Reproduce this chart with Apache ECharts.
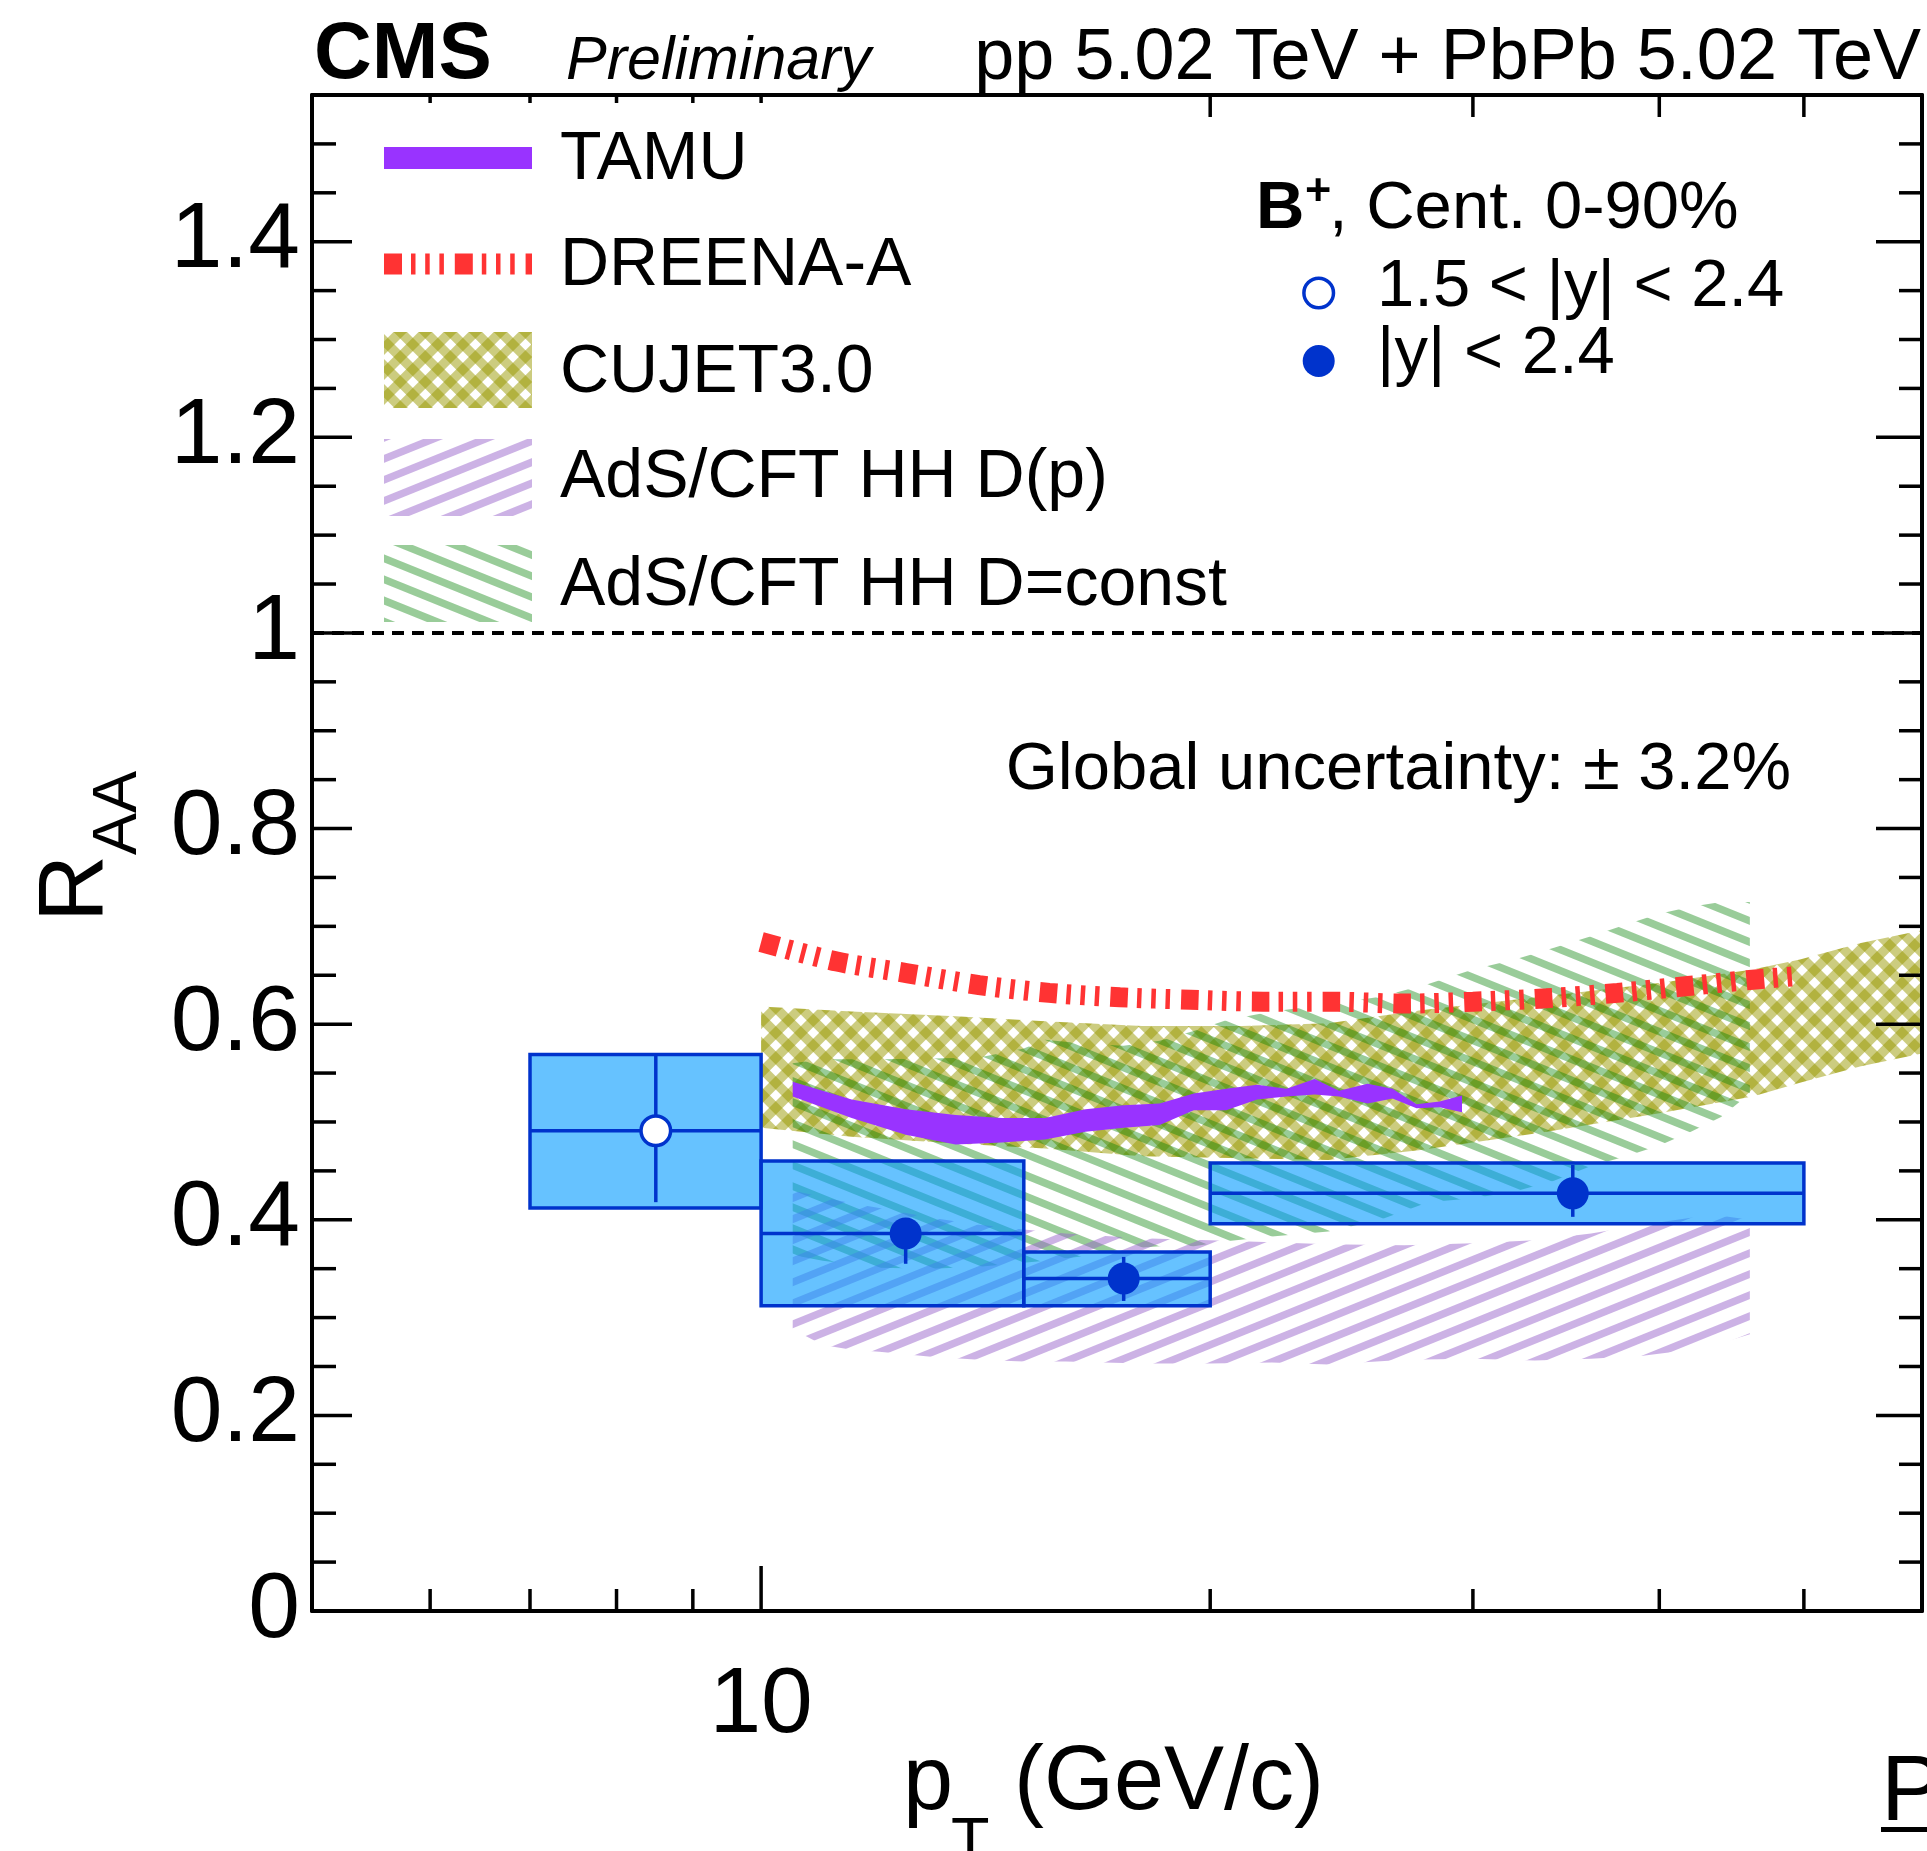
<!DOCTYPE html>
<html>
<head>
<meta charset="utf-8">
<script src="https://cdn.jsdelivr.net/npm/echarts@6.0.0/dist/echarts.min.js"></script>
<style>
html, body { margin: 0; padding: 0; background: #fff; }
#chart { width: 1927px; height: 1851px; }
</style>
</head>
<body>
<div id="chart"></div>
<script>
// ---- B+ R_AA measurement (pT bins, central values, uncertainties) ----
const binLow    = [7, 10, 15, 20];
const binHigh   = [10, 15, 20, 50];
const ptCenter  = [8.5, 12.5, 17.5, 35];
const raa       = [0.491, 0.386, 0.340, 0.427];
const statUp    = [0.078, 0.012, 0.022, 0.029];
const statDown  = [0.073, 0.031, 0.023, 0.024];
const systUp    = [0.078, 0.074, 0.027, 0.031];
const systDown  = [0.079, 0.074, 0.028, 0.031];
const forwardBin = [true, false, false, false];   // 1.5 < |y| < 2.4

// ---- model predictions ----
const tamuPt   = [10.5, 11.5, 12.5, 13.5, 14.5, 15.5, 16.5, 17.5, 18.5, 19.5, 20.5, 21.5, 22.5, 23.5, 24.4, 25.5, 26.5, 27.5, 28.5, 29.5];
const tamuHigh = [0.541, 0.523, 0.513, 0.507, 0.504, 0.504, 0.513, 0.517, 0.519, 0.529, 0.534, 0.538, 0.534, 0.544, 0.532, 0.539, 0.534, 0.518, 0.521, 0.527];
const tamuLow  = [0.526, 0.504, 0.487, 0.477, 0.479, 0.482, 0.490, 0.494, 0.497, 0.512, 0.512, 0.523, 0.526, 0.528, 0.526, 0.519, 0.524, 0.514, 0.515, 0.510];

const dreenaPt  = [10, 11.24, 12.54, 14, 15.6, 17.4, 19.4, 21.7, 24.2, 27, 30, 33.6, 37.5, 41.8, 46.6, 49.4];
const dreenaRaa = [0.684, 0.664, 0.652, 0.640, 0.632, 0.6275, 0.625, 0.623, 0.623, 0.621, 0.623, 0.6265, 0.632, 0.639, 0.646, 0.649];

const cujetPt   = [10, 11.5, 13.5, 15.5, 18, 21, 24, 27.6, 33.3, 40, 46.2, 49.7, 54.6, 60];
const cujetHigh = [0.618, 0.613, 0.608, 0.603, 0.598, 0.598, 0.601, 0.614, 0.628, 0.642, 0.656, 0.666, 0.683, 0.696];
const cujetLow  = [0.494, 0.485, 0.478, 0.473, 0.465, 0.463, 0.461, 0.471, 0.489, 0.509, 0.526, 0.540, 0.557, 0.570];

const adsDpPt   = [10.5, 11, 11.5, 12, 13, 14, 15, 16, 18, 20, 22, 24, 27, 30, 33, 36, 39, 42, 44, 46];
const adsDpHigh = [0.430, 0.423, 0.417, 0.412, 0.402, 0.395, 0.390, 0.386, 0.381, 0.379, 0.377, 0.375, 0.374, 0.376, 0.379, 0.386, 0.395, 0.402, 0.404, 0.400];
const adsDpLow  = [0.288, 0.272, 0.267, 0.265, 0.260, 0.257, 0.255, 0.255, 0.253, 0.253, 0.254, 0.252, 0.257, 0.258, 0.256, 0.258, 0.261, 0.267, 0.274, 0.283];

const adsConstPt   = [10.5, 11, 12, 13, 14, 15, 15.5, 16.5, 17.5, 18.5, 19.5, 20.5, 22, 24, 26, 28, 30, 32, 34, 36, 38, 40, 42, 44, 46];
const adsConstHigh = [0.560, 0.564, 0.564, 0.565, 0.566, 0.575, 0.584, 0.580, 0.578, 0.583, 0.593, 0.604, 0.613, 0.620, 0.628, 0.641, 0.656, 0.666, 0.678, 0.690, 0.702, 0.713, 0.720, 0.725, 0.725];
const adsConstLow  = [0.364, 0.358, 0.351, 0.350, 0.352, 0.356, 0.358, 0.363, 0.370, 0.373, 0.373, 0.378, 0.383, 0.388, 0.400, 0.418, 0.422, 0.429, 0.440, 0.455, 0.465, 0.476, 0.490, 0.505, 0.529];

const unityLine = [[5, 1], [60, 1]];

// ---- axes ----
const xMin = 5, xMax = 60, yMin = 0, yMax = 1.55;
const xMajorTicks = [10];
const xMinorTicks = [6, 7, 8, 9, 20, 30, 40, 50];
const xTopShortTicks = [6, 7, 8, 9, 10];
const xTopLongTicks = [20, 30, 40, 50];
const xTickLabels = [10];
const yMajorTicks = [0.2, 0.4, 0.6, 0.8, 1.0, 1.2, 1.4];
const yMinorTicks = [0.05, 0.1, 0.15, 0.25, 0.3, 0.35, 0.45, 0.5, 0.55, 0.65, 0.7, 0.75,
                     0.85, 0.9, 0.95, 1.05, 1.1, 1.15, 1.25, 1.3, 1.35, 1.45, 1.5];
const yTickLabels = [0, 0.2, 0.4, 0.6, 0.8, 1, 1.2, 1.4];

const W = 1927, H = 1851;
const FONT = '"Liberation Sans", Arial, Helvetica, sans-serif';
const BLUE = '#0033CC';

// hatch images, laid out in page coordinates
function hatchCanvas(sets) {
  const c = document.createElement('canvas');
  c.width = W; c.height = H;
  const g = c.getContext('2d');
  sets.forEach(s => {
    g.save();
    g.fillStyle = s.color;
    g.translate(W / 2, H / 2);
    g.rotate(s.angle * Math.PI / 180);
    const R = Math.hypot(W, H) / 2 + s.period;
    for (let y = -R; y < R; y += s.period) g.fillRect(-R, y, 2 * R, s.width);
    g.restore();
  });
  return { image: c, repeat: 'no-repeat' };
}
const crossHatch = hatchCanvas([
  { color: 'rgba(153,153,0,0.5)', angle: 45, period: 17.7, width: 9.5 },
  { color: 'rgba(153,153,0,0.5)', angle: -45, period: 17.7, width: 9.5 }
]);
const greenHatch = hatchCanvas([{ color: 'rgba(0,128,0,0.4)', angle: 22, period: 19.5, width: 7.5 }]);
const violetHatch = hatchCanvas([{ color: 'rgba(153,102,204,0.5)', angle: -22, period: 19.5, width: 7.5 }]);

function bandSeries(name, pts, lo, hi, fill, z) {
  return {
    type: 'custom', name, z, silent: true, animation: false,
    xAxisIndex: 0, yAxisIndex: 0,
    data: [[pts[0], hi[0]]],
    renderItem: (params, api) => {
      const points = [];
      for (let i = 0; i < pts.length; i++) points.push(api.coord([pts[i], hi[i]]));
      for (let i = pts.length - 1; i >= 0; i--) points.push(api.coord([pts[i], lo[i]]));
      return { type: 'polygon', shape: { points }, style: { fill } };
    }
  };
}

const DREENA_DASH = [18, 9, 4.5, 9.7, 4.5, 9.7, 4.5, 10.9];

function tickLine(x1, y1, x2, y2) {
  return { type: 'line', shape: { x1, y1, x2, y2 }, style: { stroke: '#000', lineWidth: 3.5 } };
}

function label(text, x, y, font, align, extra) {
  return Object.assign({
    type: 'text', x, y,
    style: { text, font, fill: '#000', align, textAlign: align, verticalAlign: 'middle', textVerticalAlign: 'middle' }
  }, extra || {});
}

const option = {
  animation: false,
  backgroundColor: '#fff',
  textStyle: { fontFamily: FONT },
  grid: { left: 312, top: 95, width: 1610, height: 1516, containLabel: false, outerBoundsMode: 'none' },
  xAxis: [
    {
      type: 'log', logBase: 10, min: xMin, max: xMax, position: 'bottom', z: 20,
      axisLine: { show: true, onZero: false, lineStyle: { color: '#000', width: 4 } },
      axisTick: { show: false }, minorTick: { show: false },
      splitLine: { show: false }, minorSplitLine: { show: false },
      axisLabel: {
        show: true, color: '#000', fontFamily: FONT, fontSize: 93, lineHeight: 93, margin: 49,
        formatter: v => (xTickLabels.some(t => Math.abs(t - v) < 1e-6) ? String(Math.round(v)) : '')
      }
    },
    {
      type: 'log', logBase: 10, min: xMin, max: xMax, position: 'top', z: 20,
      axisLine: { show: true, onZero: false, lineStyle: { color: '#000', width: 4 } },
      axisTick: { show: false }, axisLabel: { show: false }, splitLine: { show: false }
    }
  ],
  yAxis: [
    {
      type: 'value', min: yMin, max: yMax, interval: 0.2, position: 'left', z: 20,
      axisLine: { show: true, onZero: false, lineStyle: { color: '#000', width: 4 } },
      axisTick: { show: false }, splitLine: { show: false },
      axisLabel: {
        show: true, color: '#000', fontFamily: FONT, fontSize: 93, margin: 12, padding: [20, 0, 0, 0],
        formatter: v => (yTickLabels.some(t => Math.abs(t - v) < 1e-6) ? String(+v.toFixed(1)) : '')
      }
    },
    {
      type: 'value', min: yMin, max: yMax, interval: 0.2, position: 'right', z: 20,
      axisLine: { show: true, onZero: false, lineStyle: { color: '#000', width: 4 } },
      axisTick: { show: false }, axisLabel: { show: false }, splitLine: { show: false }
    }
  ],
  series: [
    bandSeries('CUJET3.0', cujetPt, cujetLow, cujetHigh, crossHatch, 1),
    bandSeries('AdS/CFT HH D=const', adsConstPt, adsConstLow, adsConstHigh, greenHatch, 2),
    bandSeries('AdS/CFT HH D(p)', adsDpPt, adsDpLow, adsDpHigh, violetHatch, 3),
    bandSeries('TAMU', tamuPt, tamuLow, tamuHigh, '#9933FF', 4),
    {
      type: 'line', name: 'DREENA-A', z: 5, silent: true, animation: false,
      data: dreenaPt.map((x, i) => [x, dreenaRaa[i]]),
      symbol: 'none', showSymbol: false, smooth: 0.3,
      lineStyle: { color: '#FF3333', width: 20, type: DREENA_DASH, cap: 'butt', join: 'bevel' }
    },
    {
      type: 'line', name: 'unity', z: 5, silent: true, animation: false,
      data: unityLine, symbol: 'none', showSymbol: false,
      lineStyle: { color: '#000', width: 4, type: [12, 8] }
    },
    {
      type: 'custom', name: 'B+', z: 6, silent: true, animation: false,
      data: ptCenter.map((x, i) => [x, raa[i]]),
      renderItem: (params, api) => {
        const i = params.dataIndex;
        const tl = api.coord([binLow[i], raa[i] + systUp[i]]);
        const br = api.coord([binHigh[i], raa[i] - systDown[i]]);
        const c = api.coord([ptCenter[i], raa[i]]);
        const l = api.coord([binLow[i], raa[i]]);
        const r = api.coord([binHigh[i], raa[i]]);
        const su = api.coord([ptCenter[i], raa[i] + statUp[i]]);
        const sd = api.coord([ptCenter[i], raa[i] - statDown[i]]);
        const open = forwardBin[i];
        return {
          type: 'group',
          children: [
            { type: 'rect', shape: { x: tl[0], y: tl[1], width: br[0] - tl[0], height: br[1] - tl[1] },
              style: { fill: 'rgba(0,153,255,0.6)', stroke: BLUE, lineWidth: 3.5 } },
            { type: 'line', shape: { x1: l[0], y1: l[1], x2: r[0], y2: r[1] },
              style: { stroke: BLUE, lineWidth: 3.5 } },
            { type: 'line', shape: { x1: c[0], y1: su[1], x2: c[0], y2: sd[1] },
              style: { stroke: BLUE, lineWidth: 3.5 } },
            open
              ? { type: 'circle', shape: { cx: c[0], cy: c[1], r: 14.8 },
                  style: { fill: '#fff', stroke: BLUE, lineWidth: 3.5 } }
              : { type: 'circle', shape: { cx: c[0], cy: c[1], r: 16 }, style: { fill: BLUE } }
          ]
        };
      }
    },
    {
      // frame tick marks on all four sides
      type: 'custom', name: 'ticks', z: 7, silent: true, animation: false,
      data: [[10, 0.5]],
      renderItem: (params, api) => {
        const ch = [];
        const yb = api.coord([xMin, yMin])[1];
        const yt = api.coord([xMin, yMax])[1];
        const xl = api.coord([xMin, yMin])[0];
        const xr = api.coord([xMax, yMin])[0];
        xMajorTicks.forEach(v => { const x = api.coord([v, yMin])[0]; ch.push(tickLine(x, yb, x, yb - 45)); });
        xMinorTicks.forEach(v => { const x = api.coord([v, yMin])[0]; ch.push(tickLine(x, yb, x, yb - 22)); });
        xTopShortTicks.forEach(v => { const x = api.coord([v, yMin])[0]; ch.push(tickLine(x, yt, x, yt + 8)); });
        xTopLongTicks.forEach(v => { const x = api.coord([v, yMin])[0]; ch.push(tickLine(x, yt, x, yt + 22)); });
        yMajorTicks.forEach(v => {
          const y = api.coord([xMin, v])[1];
          ch.push(tickLine(xl, y, xl + 40, y));
          ch.push(tickLine(xr, y, xr - 46, y));
        });
        yMinorTicks.forEach(v => {
          const y = api.coord([xMin, v])[1];
          ch.push(tickLine(xl, y, xl + 24, y));
          ch.push(tickLine(xr, y, xr - 23, y));
        });
        return { type: 'group', children: ch };
      }
    }
  ],
  graphic: {
    elements: [
      // header
      label('CMS', 314, 56, 'bold 80px ' + FONT, 'left'),
      label('Preliminary', 566, 62, 'italic 61px ' + FONT, 'left'),
      label('pp 5.02 TeV + PbPb 5.02 TeV', 1921, 59, '72px ' + FONT, 'right'),

      // model legend
      { type: 'rect', shape: { x: 384, y: 147, width: 148, height: 22 }, style: { fill: '#9933FF' } },
      { type: 'line', shape: { x1: 384, y1: 264, x2: 532, y2: 264 }, style: { stroke: '#FF3333', lineWidth: 21, lineDash: DREENA_DASH, lineCap: 'butt' } },
      { type: 'rect', shape: { x: 384, y: 332, width: 148, height: 76 }, style: { fill: crossHatch } },
      { type: 'rect', shape: { x: 384, y: 439, width: 148, height: 77 }, style: { fill: violetHatch } },
      { type: 'rect', shape: { x: 384, y: 545, width: 148, height: 77 }, style: { fill: greenHatch } },
      label('TAMU', 560, 160.5, '68px ' + FONT, 'left'),
      label('DREENA-A', 560, 266.5, '68px ' + FONT, 'left'),
      label('CUJET3.0', 560, 373.5, '68px ' + FONT, 'left'),
      label('AdS/CFT HH D(p)', 560, 478.5, '68px ' + FONT, 'left'),
      label('AdS/CFT HH D=const', 560, 586.5, '68px ' + FONT, 'left'),

      // data legend
      label('B', 1256, 209.5, 'bold 67px ' + FONT, 'left'),
      label('+', 1305, 193, 'bold 45px ' + FONT, 'left'),
      label(', Cent. 0-90%', 1329, 209.5, '67px ' + FONT, 'left'),
      { type: 'circle', shape: { cx: 1318.7, cy: 293, r: 14.8 }, style: { fill: '#fff', stroke: BLUE, lineWidth: 3.5 } },
      { type: 'circle', shape: { cx: 1318.7, cy: 361, r: 16 }, style: { fill: BLUE } },
      label('1.5 < |y| < 2.4', 1377, 287.5, '67px ' + FONT, 'left'),
      label('|y| < 2.4', 1377, 354.5, '67px ' + FONT, 'left'),
      label('Global uncertainty: \u00B1 3.2%', 1791, 770.5, '67px ' + FONT, 'right'),

      // axis titles
      label('R', 77.5, 922, '93px ' + FONT, 'left', { rotation: Math.PI / 2 }),
      label('AA', 118.5, 855, '63px ' + FONT, 'left', { rotation: Math.PI / 2 }),
      label('p', 903, 1784, '90px ' + FONT, 'left'),
      label('T', 951, 1844, '63px ' + FONT, 'left'),
      label('(GeV/c)', 1014, 1784, '90px ' + FONT, 'left'),
      label('P', 1881, 1794, '93px ' + FONT, 'left'),
      { type: 'rect', shape: { x: 1881, y: 1827, width: 46, height: 5 }, style: { fill: '#000' } }
    ]
  }
};

const chart = echarts.init(document.getElementById('chart'), null, { renderer: 'canvas', width: W, height: H });
chart.setOption(option);
</script>
</body>
</html>
